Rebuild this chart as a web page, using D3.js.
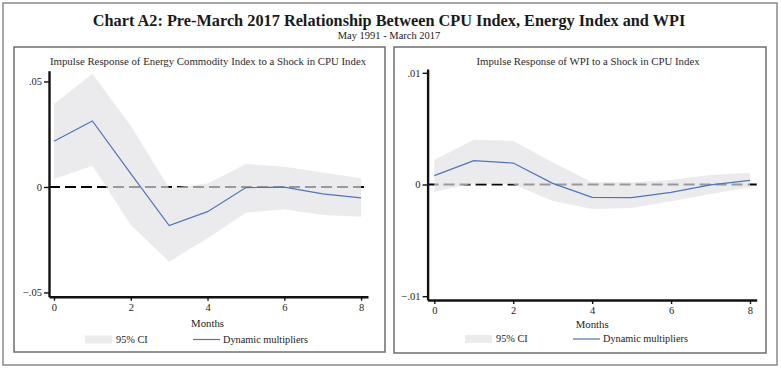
<!DOCTYPE html>
<html lang="en">
  <head>
    <meta charset="UTF-8" />
    <title>Chart A2</title>
    <style>
      body {
        margin: 0;
        background: #fff;
      }
      svg {
        display: block;
        font-family: "Liberation Serif", serif;
      }
      .axis text {
        font-size: 10.5px;
        fill: #222;
        font-family: "Liberation Serif", serif;
      }
      .axis path,
      .axis line {
        stroke: #111;
      }
    </style>
  </head>
  <body>
    <svg width="781" height="370"></svg>
    <script src="https://d3js.org/d3.v7.min.js"></script>
    <script>
      // months after the shock
      const months = [0, 1, 2, 3, 4, 5, 6, 7, 8];
      const monthTicks = [0, 2, 4, 6, 8];

      // energy commodity index response
      const energyIrf = [0.0217, 0.0313, 0.0063, -0.0183, -0.0117, -0.0003, -0.0001, -0.0033, -0.0052];
      const energyUpper = [0.0393, 0.0536, 0.029, -0.0005, 0.0016, 0.0109, 0.0096, 0.0068, 0.0041];
      const energyLower = [0.0038, 0.0101, -0.018, -0.0354, -0.0243, -0.0122, -0.0106, -0.0133, -0.0141];
      const energyTicks = [-0.05, 0, 0.05];

      // WPI response
      const wpiIrf = [0.0008, 0.00213, 0.00192, 0.0001, -0.00115, -0.00118, -0.0007, -0.00004, 0.00037];
      const wpiUpper = [0.0022, 0.004, 0.0039, 0.002, 0.0002, 0.0002, 0.0004, 0.00085, 0.00106];
      const wpiLower = [-0.00064, 0.0001, 0.00003, -0.00148, -0.0022, -0.0021, -0.0015, -0.00085, -0.00025];
      const wpiTicks = [-0.01, 0, 0.01];

      const blue = "#5174b8";
      const bandFill = "#e2e2e4";
      const bandOpacity = 0.68;

      const svg = d3.select("svg");

      // outer frame
      svg
        .append("rect")
        .attr("x", 3)
        .attr("y", 3)
        .attr("width", 774)
        .attr("height", 362)
        .attr("fill", "none")
        .attr("stroke", "#8a8a8a")
        .attr("stroke-width", 1.5);

      svg
        .append("text")
        .attr("x", 389)
        .attr("y", 25.5)
        .attr("text-anchor", "middle")
        .attr("font-weight", "bold")
        .attr("font-size", 16.3)
        .attr("fill", "#1a1a1a")
        .text("Chart A2: Pre-March 2017 Relationship Between CPU Index, Energy Index and WPI");

      svg
        .append("text")
        .attr("x", 389)
        .attr("y", 38.5)
        .attr("text-anchor", "middle")
        .attr("font-size", 10.5)
        .attr("fill", "#222")
        .text("May 1991 - March 2017");

      const tickFmt = (d) => (d === 0 ? "0" : d3.format(".2f")(d).replace("0.", "."));

      function drawPanel(p) {
        const g = svg.append("g");

        g.append("rect")
          .attr("x", p.box[0])
          .attr("y", p.box[1])
          .attr("width", p.box[2])
          .attr("height", p.box[3])
          .attr("fill", "#fff")
          .attr("stroke", "#6e6e6e")
          .attr("stroke-width", 1.5);

        g.append("text")
          .attr("x", p.titleX)
          .attr("y", p.titleY)
          .attr("text-anchor", "middle")
          .attr("font-size", 10.8)
          .attr("fill", "#2a2a2a")
          .text(p.title);

        const x = d3.scaleLinear().domain(p.xDomain).range(p.xRange);
        const y = d3.scaleLinear().domain(p.yDomain).range(p.yRange);

        // zero reference line, sits under the band
        g.append("line")
          .attr("x1", p.xRange[0])
          .attr("x2", p.xRange[1])
          .attr("y1", y(0))
          .attr("y2", y(0))
          .attr("stroke", "#000")
          .attr("stroke-width", 2)
          .attr("stroke-dasharray", "11,5");

        const rows = months.map((m, i) => ({ m: m, v: p.irf[i], lo: p.lower[i], hi: p.upper[i] }));

        g.append("path")
          .datum(rows)
          .attr("fill", bandFill)
          .attr("fill-opacity", bandOpacity)
          .attr(
            "d",
            d3
              .area()
              .x((d) => x(d.m))
              .y0((d) => y(d.lo))
              .y1((d) => y(d.hi))
          );

        g.append("path")
          .datum(rows)
          .attr("fill", "none")
          .attr("stroke", blue)
          .attr("stroke-width", 1.2)
          .attr(
            "d",
            d3
              .line()
              .x((d) => x(d.m))
              .y((d) => y(d.v))
          );

        const ax = g
          .append("g")
          .attr("class", "axis")
          .attr("transform", `translate(0,${p.yRange[0]})`)
          .call(d3.axisBottom(x).tickValues(monthTicks).tickSize(4).tickSizeOuter(0).tickPadding(3).tickFormat(d3.format("d")));
        ax.select(".domain").attr("stroke-width", 2.4);
        ax.selectAll(".tick line").attr("stroke-width", 1.4);

        const ay = g
          .append("g")
          .attr("class", "axis")
          .attr("transform", `translate(${p.xRange[0]},0)`)
          .call(d3.axisLeft(y).tickValues(p.ticks).tickSize(5).tickSizeOuter(0).tickPadding(2).tickFormat(tickFmt));
        ay.select(".domain").attr("stroke-width", 2.4);
        ay.selectAll(".tick line").attr("stroke-width", 1.4);

        const cx = (x(0) + x(8)) / 2;
        g.append("text")
          .attr("x", cx)
          .attr("y", p.monthsY)
          .attr("text-anchor", "middle")
          .attr("font-size", 10.8)
          .attr("fill", "#222")
          .text("Months");

        // legend
        g.append("rect")
          .attr("x", p.legX)
          .attr("y", p.legY - 7)
          .attr("width", 27)
          .attr("height", 8)
          .attr("fill", "#ebebeb");
        g.append("text")
          .attr("x", p.legX + 31)
          .attr("y", p.legY)
          .attr("font-size", 10.3)
          .attr("fill", "#222")
          .text("95% CI");
        g.append("line")
          .attr("x1", p.legX + 108)
          .attr("x2", p.legX + 135)
          .attr("y1", p.legY - 3)
          .attr("y2", p.legY - 3)
          .attr("stroke", blue)
          .attr("stroke-width", 1.2);
        g.append("text")
          .attr("x", p.legX + 138)
          .attr("y", p.legY)
          .attr("font-size", 10.3)
          .attr("fill", "#222")
          .text("Dynamic multipliers");
      }

      drawPanel({
        box: [14, 47, 371, 305],
        title: "Impulse Response of Energy Commodity Index to a Shock in CPU Index",
        titleX: 208,
        titleY: 64.5,
        xDomain: [-0.13, 8.18],
        xRange: [49, 368],
        yDomain: [-0.052, 0.0551],
        yRange: [296.7, 70.7],
        ticks: energyTicks,
        irf: energyIrf,
        upper: energyUpper,
        lower: energyLower,
        monthsY: 326.5,
        legX: 85,
        legY: 342.5,
      });

      drawPanel({
        box: [394, 47, 372, 306],
        title: "Impulse Response of WPI to a Shock in CPU Index",
        titleX: 588,
        titleY: 64.5,
        xDomain: [-0.17, 8.17],
        xRange: [427.6, 756.7],
        yDomain: [-0.01034, 0.01034],
        yRange: [300, 69],
        ticks: wpiTicks,
        irf: wpiIrf,
        upper: wpiUpper,
        lower: wpiLower,
        monthsY: 327.5,
        legX: 465,
        legY: 342,
      });
    </script>
  </body>
</html>
